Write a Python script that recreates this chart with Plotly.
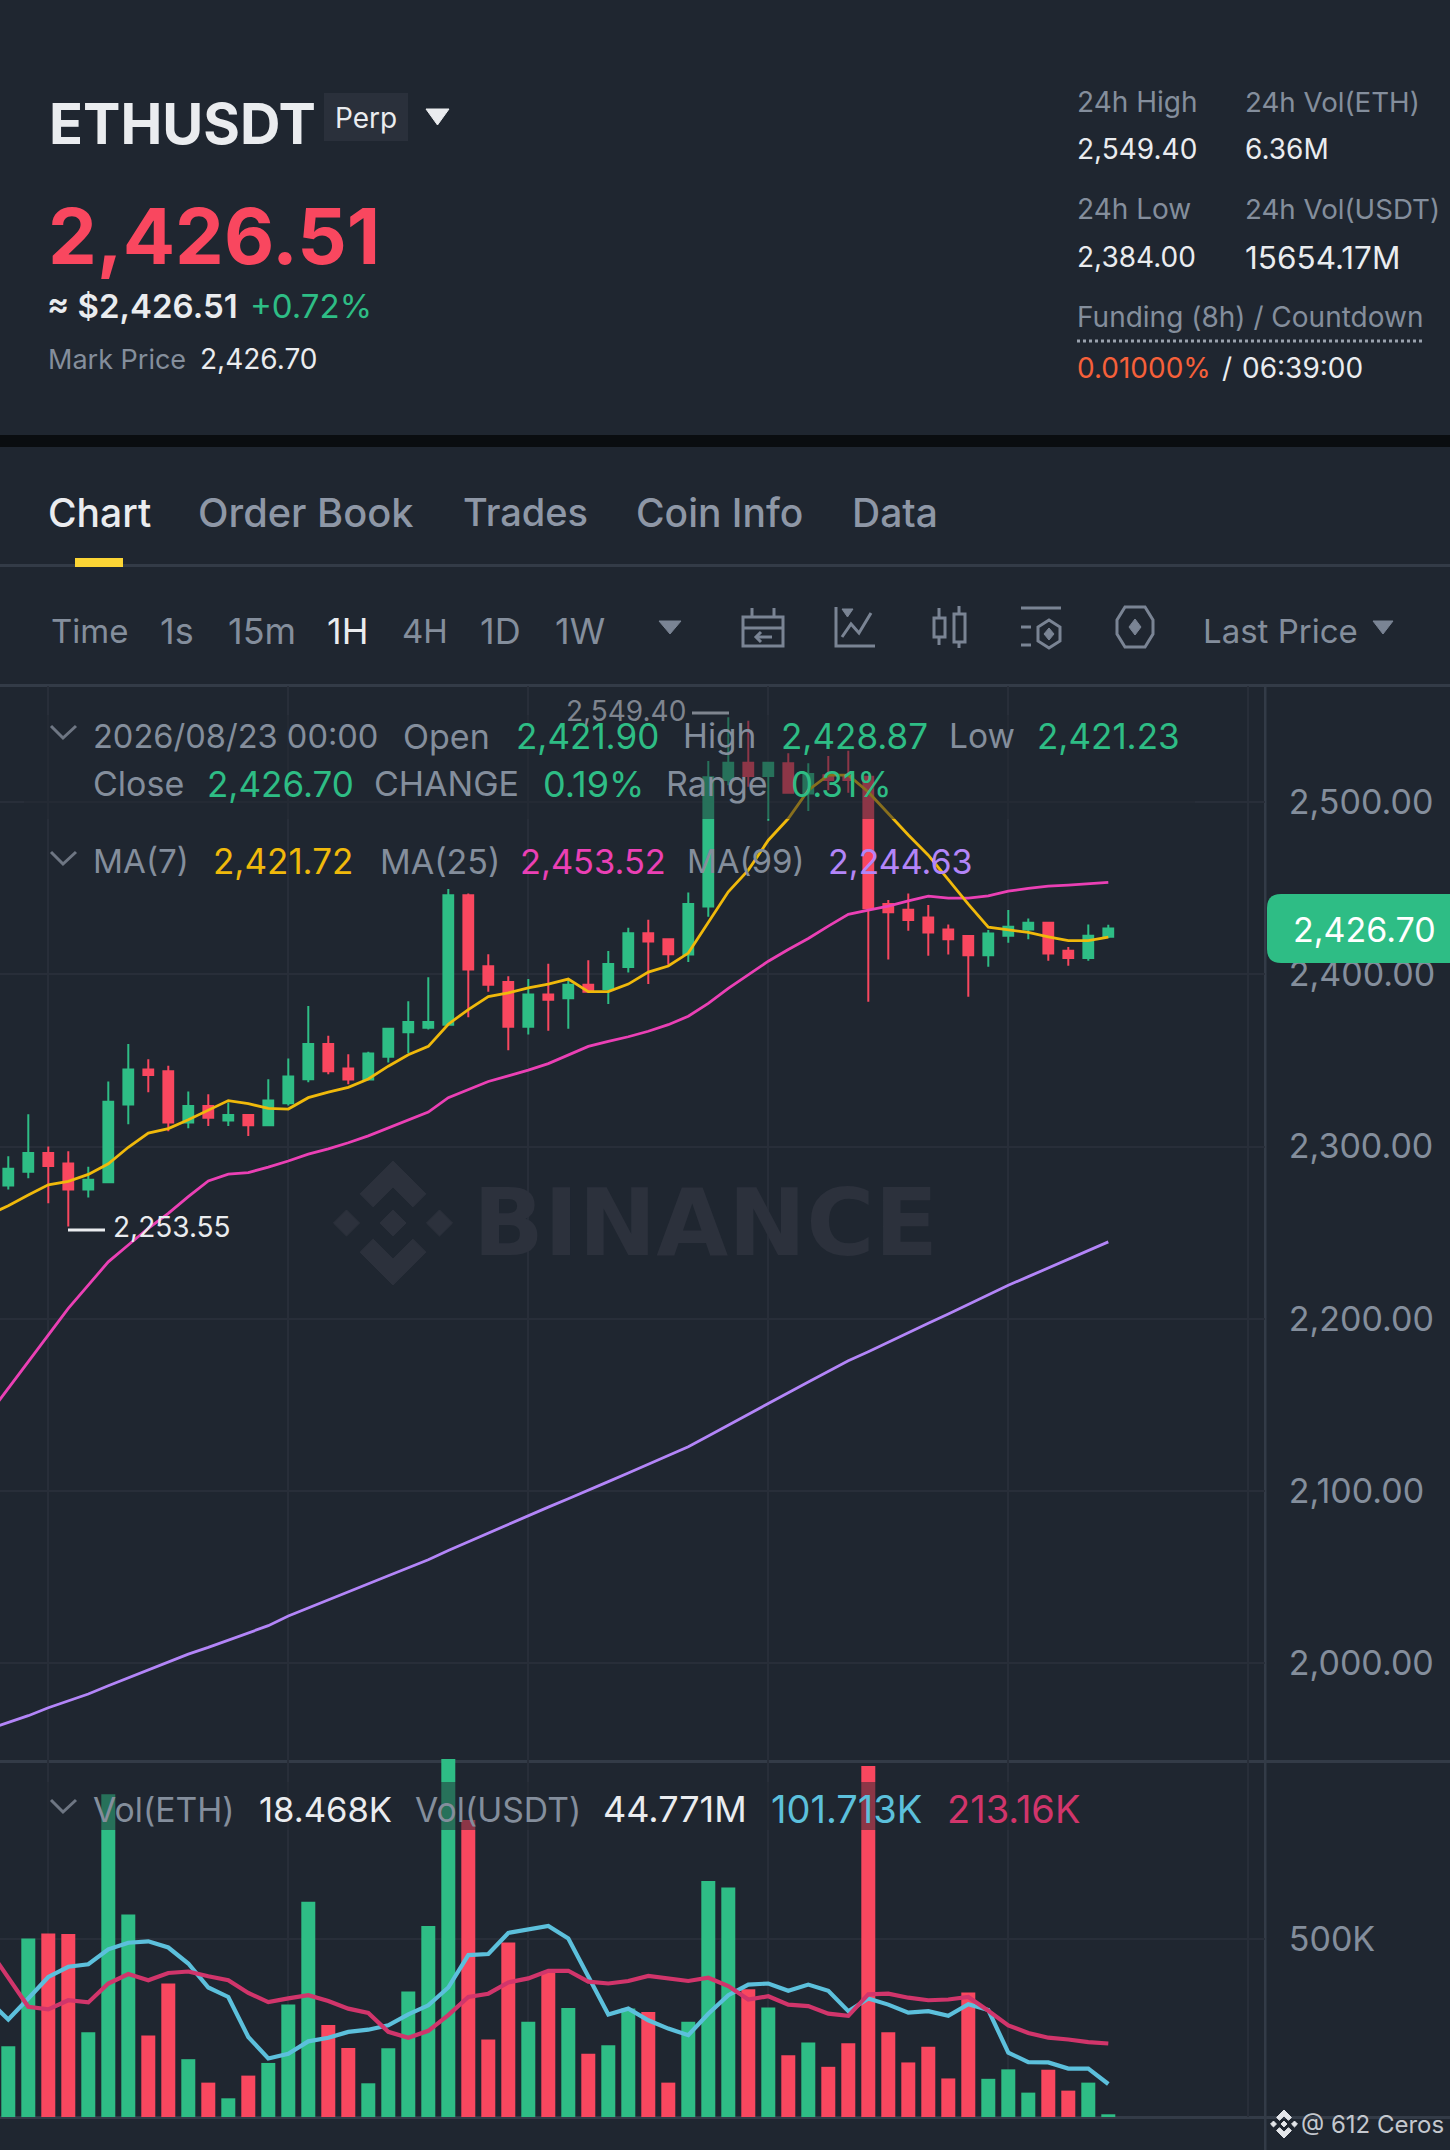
import plotly.graph_objects as go

# ---------- data ----------
candle_index = list(range(56))
ma_index = list(range(-1, 56))

opens = [2277.3,2285.3,2296.2,2290.2,2275.1,2279.3,2324.4,2344.7,2343.8,2314,2323.6,2315.1,2318.4,2312.4,2325.1,2339.1,2359.6,2345.3,2338.9,2352.2,2366.4,2369.1,2370.7,2446,2404.7,2395.6,2369.6,2388.4,2386.2,2394,2391.6,2404.4,2424,2420.4,2411.6,2439.5,2513,2523,2515.3,2522.7,2505.2,2515.8,2515.8,2514.9,2440.9,2437.6,2433.1,2426.1,2422.3,2411.2,2422.5,2426.1,2430,2413.8,2409.5,2421.9]
highs = [2294.4,2318.7,2300,2297.3,2288.2,2337.8,2359.6,2350.7,2346.9,2332,2330.4,2325.6,2318.4,2339.1,2351.1,2381.6,2364.4,2353.6,2355.1,2368.4,2384.4,2398.4,2449.6,2447.1,2411.8,2398.9,2397.3,2406.2,2397.3,2408.2,2413.6,2427.1,2431.8,2420.4,2447.6,2524,2549.4,2547.4,2523,2528.5,2522.7,2526.9,2530,2514.9,2443.2,2447,2440.3,2429,2422.3,2425.8,2437.4,2432.5,2430.6,2416,2429,2428.87]
lows = [2275.1,2281.6,2267.1,2253.55,2270.4,2279.3,2312.9,2331.6,2308.9,2310.7,2312,2312,2306.2,2312,2323.8,2337.3,2342,2336.2,2338.9,2348.9,2354.4,2368,2370.7,2375.1,2390,2356,2365.1,2367.3,2368.4,2390,2382.9,2401.1,2394.4,2405.6,2407.3,2433.5,2510,2509,2489.3,2505.6,2495,2507,2505.6,2384.1,2408.7,2425.4,2410.8,2411.6,2387,2404.5,2418.4,2420.5,2408,2405,2408,2421.23]
closes = [2287.1,2296.2,2288.7,2275.1,2280.7,2326,2344.7,2341.6,2314,2323.6,2316.7,2318.4,2312.4,2326.7,2340.7,2359.6,2343.8,2338.9,2354,2368.4,2372.4,2372.4,2446,2402.9,2394,2369.6,2388.4,2385.3,2394,2390,2406,2424,2419.1,2411.8,2440.9,2514.6,2523,2515.3,2523,2505.6,2516.4,2513,2513,2438.5,2436.2,2431.6,2424.4,2420.5,2411.2,2423.8,2427.7,2430,2412.2,2409.5,2422.5,2426.7]

ma7 = [2260.2,2265.6,2271.8,2277.8,2279.8,2283.8,2290,2299.6,2307.8,2310.4,2315.6,2321.1,2326.7,2324.9,2322.2,2321.8,2328.4,2331.6,2334.4,2339.3,2346.7,2353.3,2358.2,2371.1,2379.6,2387.1,2389.3,2392.2,2394.4,2397.3,2390,2390,2394.4,2401.4,2404.9,2412.4,2430.6,2448,2460.6,2478,2490.6,2507.1,2515.8,2515.8,2506,2493.5,2481,2469.3,2454.8,2440.9,2427.5,2425.8,2424.4,2421.9,2419.6,2419.6,2421.72]
ma25 = [2144,2159.5,2175,2190.9,2206,2219.5,2233,2242.8,2252.5,2261.2,2270.9,2280,2284,2284.9,2288,2291.6,2295.6,2298.7,2302.2,2306.2,2310.7,2315.6,2320,2328.4,2333.3,2337.8,2341.1,2344.4,2348.2,2353.3,2358.2,2361.1,2363.8,2367,2370.8,2375.7,2383.2,2391.9,2399.6,2407.7,2414.5,2420.9,2428.1,2434.9,2437.4,2439.7,2442.8,2445.5,2444.4,2444.4,2445.7,2448.4,2450,2451.3,2451.9,2452.9,2453.52]
ma99 = [1961.5,1965.4,1969.3,1973.9,1978,1981.9,1986.7,1991.3,1996.2,2000.8,2005.1,2009,2013.2,2017.3,2021.6,2027.2,2031.8,2036.7,2041.1,2045.8,2050.6,2055.3,2059.9,2065.3,2070.4,2075.4,2080.4,2085.5,2090.5,2095.4,2100.2,2105.3,2110.3,2115.4,2120.6,2125.6,2131.8,2138.2,2144.6,2150.8,2157,2163.2,2169.4,2175.6,2180.8,2186.4,2191.9,2197.3,2202.7,2208.3,2213.8,2219.4,2224.4,2229.4,2234.5,2239.5,2244.63]

volume_k = [205.5,501.8,515.6,513.8,244,898,568,235,378,170,105.5,62.4,124.8,159.6,320,603,264,201,103.7,200,356,536,995,827.5,224,491,273,410,311,185,208,309,300,105.5,273,660,642,362,312,181,216,149,214,976,244,161,204,117,353,116,142,78,141,83.5,105.5,18.468]
vol_ma5 = [332,279,337,396,424,431,472,490,494,477,433,367,341,231,172,185,219,229,245,251,263,293,318,367,456,459,517,527,536,502,396,293,309,277,254,236,295,346,375,378,358,375,358,302,337,320,298,302,289,321,305,188,162,161,144,144,101.713]
vol_ma10 = [474,394,314,307,332,326,378,404,387,407,411,398,387,352,327,337,346,330,309,297,245,229,248,291,341,350,381,392,413,413,383,378,385,399,392,385,394,371,334,343,320,316,295,289,348,350,339,332,334,341,303,263,242,229,224,217,213.16]

price_ticks = [2000, 2100, 2200, 2300, 2400, 2500]
time_ticks = [2, 14, 26, 38, 50, 62]

# ---------- style ----------
W, H = 1450, 2150
BG = "#1F2630"
GRID = "#282E39"
LINE = "#333B47"
GREEN = "#2EBD85"
RED = "#F9475F"
GRAY = "#848E9C"
TXT = "#EAECEF"
FONT = "Inter"

fig = go.Figure()


def fx(x):
    return x / W


def fy(y):
    return 1 - y / H


def pts(points, close=False):
    s = "M" + " L".join(f"{fx(a):.5f} {fy(b):.5f}" for a, b in points)
    return s + (" Z" if close else "")


shapes = []


def rect(x0, y0, x1, y1, color, layer="below", opacity=1):
    shapes.append(dict(type="rect", xref="paper", yref="paper", x0=fx(x0), x1=fx(x1), y0=fy(y0), y1=fy(y1),
                       fillcolor=color, line_width=0, layer=layer, opacity=opacity))


def poly(points, color, layer="below"):
    shapes.append(dict(type="path", xref="paper", yref="paper", path=pts(points, True), fillcolor=color,
                       line=dict(color=color, width=1), layer=layer))


def stroke(points, color, width=3, layer="below", dash=None, closed=False):
    line = dict(color=color, width=width)
    if dash:
        line["dash"] = dash
    shapes.append(dict(type="path", xref="paper", yref="paper", path=pts(points, closed), line=line, layer=layer))


def logo(cx, cy, s, color, layer="below"):
    top = [(0, -1), (.53, -.47), (.32, -.26), (0, -.58), (-.32, -.26), (-.53, -.47)]
    poly([(cx + a * s, cy + b * s) for a, b in top], color, layer)
    poly([(cx + a * s, cy - b * s) for a, b in top], color, layer)
    for dx in (-.75, 0, .75):
        r = .21
        poly([(cx + (dx) * s, cy - r * s), (cx + (dx + r) * s, cy), (cx + dx * s, cy + r * s), (cx + (dx - r) * s, cy)], color, layer)


notes = []


def T(x, y, text, color=TXT, size=31, weight=400, anchor="left", family=FONT):
    notes.append(dict(xref="paper", yref="paper", x=fx(x), y=fy(y), text=text, showarrow=False, xanchor=anchor,
                      yanchor="middle", borderpad=0, borderwidth=0,
                      font=dict(family=family, size=size, color=color, weight=weight)))


# ---------- chrome ----------
rect(0, 435, W, 447, "#0A0D10")
rect(0, 564, W, 567, LINE)
rect(75, 558, 123, 567, "#FCD535")
rect(0, 684, W, 687, LINE)
rect(324, 93, 408, 141, "#2A303B")
poly([(426, 109), (449, 109), (437.5, 125)], TXT)
stroke([(1077, 341), (1422, 341)], "#9AA2AE", 3, dash="dot")
poly([(659, 621), (681, 621), (670, 634)], "#7A8494")
poly([(1373, 621), (1393, 621), (1383, 634)], "#7A8494")

# toolbar icons
IC = "#7A8494"
stroke([(743, 617), (783, 617), (783, 646), (743, 646)], IC, closed=True)
stroke([(743, 628), (783, 628)], IC)
stroke([(752, 608), (752, 616)], IC)
stroke([(774, 608), (774, 616)], IC)
stroke([(772, 637), (756, 637)], IC)
stroke([(761, 632), (756, 637), (761, 642)], IC)
stroke([(836, 607), (836, 646), (875, 646)], IC)
poly([(842, 609), (853, 609), (847.5, 617)], IC)
stroke([(842, 637), (851, 624), (859, 633), (871, 613)], IC)
stroke([(939, 608), (939, 645)], IC)
stroke([(959, 606), (959, 648)], IC)
for a, b, c, d in [(934, 618, 945, 637), (954, 614, 965, 642)]:
    shapes.append(dict(type="rect", xref="paper", yref="paper", x0=fx(a), x1=fx(c), y0=fy(b), y1=fy(d),
                       fillcolor=BG, line=dict(color=IC, width=3), layer="below"))
stroke([(1021, 608), (1061, 608)], IC)
stroke([(1021, 627), (1031, 627)], IC)
stroke([(1021, 645), (1031, 645)], IC)
stroke([(1049, 620), (1060, 627), (1060, 641), (1049, 648), (1038, 641), (1038, 627)], IC, closed=True)
poly([(1049, 628), (1054, 634), (1049, 640), (1044, 634)], IC)
stroke([(1125, 607), (1145, 607), (1153, 620), (1153, 634), (1145, 647), (1125, 647), (1117, 634), (1117, 620)], IC, closed=True)
poly([(1135, 619), (1141, 627), (1135, 635), (1129, 627)], IC)

# watermark
logo(393, 1223, 62, "#2C313C")
T(473, 1223, "BINANCE", "#2C313C", 93, 700, family="DejaVu Sans")

# pane borders
rect(0, 1760, W, 1763, LINE)
rect(0, 2116, W, 2119, LINE)
rect(1264, 687, 1266.5, H, LINE)

# dimming behind the floating legends
rect(24, 715, 1195, 819, BG, "above", 0.5)
rect(24, 1782, 1095, 1830, BG, "above", 0.5)

# legend chevrons
for cy in (732, 858, 1806):
    stroke([(51, cy - 6), (63, cy + 6), (76, cy - 6)], "#6E7683", 3, layer="above")

# extreme markers
stroke([(692, 713), (729, 713)], "#7F858F", 3, "above")
stroke([(68, 1230), (105, 1230)], TXT, 3, "above")

# current price tag
tx0, tx1, ty0, ty1, r = 1267, 1452, 894, 963, 14
shapes.append(dict(type="path", xref="paper", yref="paper", layer="above", fillcolor=GREEN, line_width=0,
                   path=(f"M{fx(tx1)} {fy(ty0)} L{fx(tx0 + r)} {fy(ty0)} Q{fx(tx0)} {fy(ty0)} {fx(tx0)} {fy(ty0 + r)} "
                         f"L{fx(tx0)} {fy(ty1 - r)} Q{fx(tx0)} {fy(ty1)} {fx(tx0 + r)} {fy(ty1)} L{fx(tx1)} {fy(ty1)} Z")))

# bottom-right credit
logo(1284, 2124, 14, "#E4E6EA", "above")
T(1301, 2124, "@ 612 Ceros", "#C4C8CE", 24)

# ---------- header text ----------
T(49, 124, "ETHUSDT", TXT, 56, 700)
T(366, 118, "Perp", TXT, 28, 400, "center")
T(47.5, 236, "2,426.51", RED, 77.5, 700)
T(47, 306, "≈ $2,426.51", TXT, 33, 600)
T(250, 306, "+0.72%", GREEN, 33)
T(48, 359, "Mark Price", GRAY, 27)
T(200, 359, "2,426.70", TXT, 28)
T(1077, 102, "24h High", GRAY, 28)
T(1245, 102, "24h Vol(ETH)", GRAY, 27.7)
T(1077, 149, "2,549.40", TXT, 28)
T(1245, 149, "6.36M", TXT, 28)
T(1077, 209, "24h Low", GRAY, 28)
T(1245, 209, "24h Vol(USDT)", GRAY, 27.7)
T(1077, 257, "2,384.00", TXT, 28)
T(1245, 257, "15654.17M", TXT, 31.5)
T(1077, 317, "Funding (8h) / Countdown", GRAY, 28)
T(1077, 368, "0.01000%", "#F6603A", 28)
T(1222, 368, "/", TXT, 28)
T(1242, 368, "06:39:00", TXT, 28)

# tabs
for x, s, c, z in [(48, "Chart", TXT, 39), (198, "Order Book", "#8E97A6", 39.8), (463, "Trades", "#8E97A6", 38),
                   (636, "Coin Info", "#8E97A6", 39), (852, "Data", "#8E97A6", 39)]:
    T(x, 512, s, c, z, 500)
# toolbar
for x, s, c, z in [(51, "Time", GRAY, 33), (160, "1s", GRAY, 36), (228, "15m", GRAY, 36), (327, "1H", TXT, 36),
                   (402, "4H", GRAY, 33), (480, "1D", GRAY, 36), (555, "1W", GRAY, 36), (1203, "Last Price", GRAY, 33)]:
    T(x, 631, s, c, z)

# legend rows
for x, y, s, c, z in [
    (93, 736, "2026/08/23 00:00", GRAY, 32.6), (403, 736, "Open", GRAY, 34), (516, 736, "2,421.90", GREEN, 35),
    (683, 736, "High", GRAY, 33.5), (781, 736, "2,428.87", GREEN, 35), (949, 736, "Low", GRAY, 33.5), (1037, 736, "2,421.23", GREEN, 35),
    (93, 784, "Close", GRAY, 34), (207, 784, "2,426.70", GREEN, 35), (374, 784, "CHANGE", GRAY, 34), (543, 784, "0.19%", GREEN, 36),
    (666, 784, "Range", GRAY, 34), (791, 784, "0.31%", GREEN, 35),
    (93, 861, "MA(7)", GRAY, 33.2), (213, 861, "2,421.72", "#F0B90B", 35), (380, 861, "MA(25)", GRAY, 34),
    (520, 861, "2,453.52", "#EB40B5", 34.4), (687, 861, "MA(99)", GRAY, 33), (828, 861, "2,244.63", "#B385F8", 34),
    (93, 1809, "Vol(ETH)", GRAY, 33.7), (259, 1809, "18.468K", TXT, 34.6), (415, 1809, "Vol(USDT)", GRAY, 33.7),
    (603, 1809, "44.771M", TXT, 36), (771, 1809, "101.713K", "#5CC0DC", 38), (947, 1809, "213.16K", "#D1356B", 38),
]:
    T(x, y, s, c, z)

T(566, 711, "2,549.40", "#7F858F", 28)
T(113, 1227, "2,253.55", TXT, 28)
T(1364, 929, "2,426.70", "#FFFFFF", 34, 400, "center")

# ---------- chart ----------
fig.add_trace(go.Candlestick(
    x=candle_index, open=opens, high=highs, low=lows, close=closes, whiskerwidth=0, xaxis="x", yaxis="y",
    increasing=dict(line=dict(color=GREEN, width=2), fillcolor=GREEN),
    decreasing=dict(line=dict(color=RED, width=2), fillcolor=RED), showlegend=False))
for vals, col in [(ma99, "#B385F8"), (ma25, "#EB40B5"), (ma7, "#F0B90B")]:
    fig.add_trace(go.Scatter(x=ma_index, y=vals, mode="lines", line=dict(color=col, width=2.8), xaxis="x", yaxis="y",
                             showlegend=False))

bar_colors = [GREEN if c >= o else RED for o, c in zip(opens, closes)]
fig.add_trace(go.Bar(x=candle_index, y=volume_k, marker=dict(color=bar_colors, line_width=0), width=0.7, xaxis="x2",
                     yaxis="y2", showlegend=False))
for vals, col in [(vol_ma5, "#5CC0DC"), (vol_ma10, "#D1356B")]:
    fig.add_trace(go.Scatter(x=ma_index, y=vals, mode="lines", line=dict(color=col, width=4.2), xaxis="x2", yaxis="y2",
                             showlegend=False))

x_range = [-0.415, 62.835]
common_x = dict(range=x_range, domain=[0, 1265 / W], tickmode="array", tickvals=time_ticks, showticklabels=False,
                ticks="", showgrid=True, gridcolor=GRID, gridwidth=2, zeroline=False, showline=False, fixedrange=True)
tick_font = dict(family=FONT, size=34, color=GRAY)

fig.update_layout(
    width=W, height=H, margin=dict(l=0, r=0, t=0, b=0), paper_bgcolor=BG, plot_bgcolor="rgba(0,0,0,0)", autosize=False,
    showlegend=False, boxgap=0.3, barmode="overlay", hovermode=False,
    font=dict(family=FONT, color=GRAY),
    xaxis=dict(**common_x, anchor="y", rangeslider=dict(visible=False)),
    xaxis2=dict(**common_x, anchor="y2"),
    yaxis=dict(domain=[fy(1762), fy(686)], range=[1942.4, 2567.6], anchor="x", side="right", tickmode="array",
               tickvals=price_ticks, tickformat=",.2f", tickfont=tick_font, ticks="outside", ticklen=16,
               tickcolor="rgba(0,0,0,0)", showgrid=True, gridcolor=GRID, gridwidth=2, zeroline=False, showline=False,
               fixedrange=True),
    yaxis2=dict(domain=[fy(2117), fy(1750)], range=[11, 1020], anchor="x2", side="right", tickmode="array",
                tickvals=[500], ticktext=["500K"], tickfont=tick_font, ticks="outside", ticklen=16,
                tickcolor="rgba(0,0,0,0)", showgrid=True, gridcolor=GRID, gridwidth=2, zeroline=False, showline=False,
                fixedrange=True),
    annotations=notes,
    shapes=shapes,
)

fig.write_html("out.html", config=dict(displayModeBar=False), post_script="document.body.style.margin='0';")
